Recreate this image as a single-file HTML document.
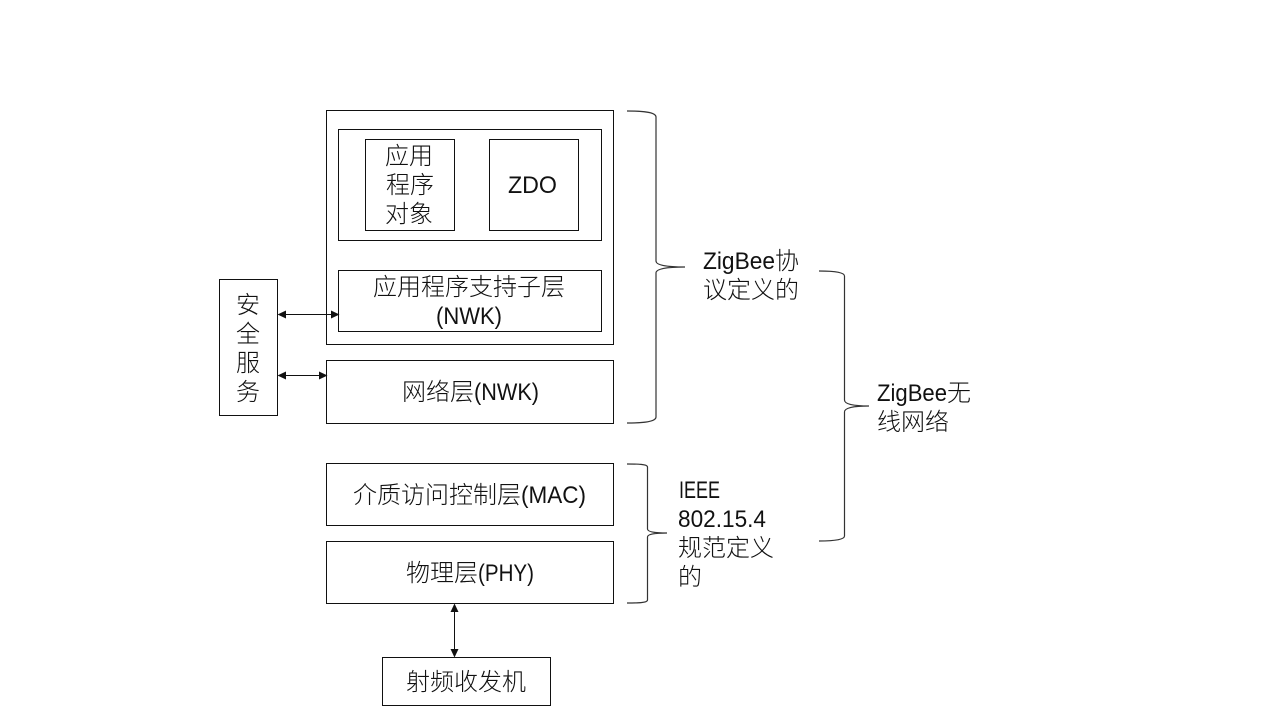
<!DOCTYPE html>
<html>
<head>
<meta charset="utf-8">
<style>
html,body{margin:0;padding:0;background:#fff;width:1280px;height:720px;overflow:hidden}
svg{display:block}
text{font-family:"Liberation Sans","Noto Sans CJK SC","WenQuanYi Zen Hei",sans-serif;font-size:24px;fill:#111;font-weight:300}
.m{text-anchor:middle}
rect{fill:none;stroke:#111;stroke-width:1}
.b{fill:none;stroke:#333;stroke-width:1.200}
.a{stroke:#111;stroke-width:1;fill:none}
.h{fill:#111;stroke:none}
</style>
</head>
<body>
<svg width="1280" height="720" viewBox="0 0 1280 720" xmlns="http://www.w3.org/2000/svg">
<rect x="326.5" y="110.5" width="287" height="234"/>
<rect x="338.5" y="129.5" width="263" height="111"/>
<rect x="365.5" y="139.5" width="89" height="91"/>
<rect x="489.5" y="139.5" width="89" height="91"/>
<rect x="338.5" y="270.5" width="263" height="61"/>
<rect x="219.5" y="279.5" width="58" height="136"/>
<rect x="326.5" y="360.5" width="287" height="63"/>
<rect x="326.5" y="463.5" width="287" height="62"/>
<rect x="326.5" y="541.5" width="287" height="62"/>
<rect x="382.5" y="657.5" width="168" height="48"/>

<text class="m" x="409" y="164">应用</text>
<text class="m" x="410" y="193">程序</text>
<text class="m" x="409" y="222">对象</text>
<text x="508" y="193" textLength="49" lengthAdjust="spacingAndGlyphs">ZDO</text>
<text class="m" x="469" y="295">应用程序支持子层</text>
<text x="436" y="324" textLength="66" lengthAdjust="spacingAndGlyphs">(NWK)</text>
<text class="m" x="248" y="313">安</text>
<text class="m" x="248" y="342">全</text>
<text class="m" x="248" y="371">服</text>
<text class="m" x="248" y="400">务</text>
<text x="402" y="400">网络层</text>
<text x="474" y="400" textLength="65" lengthAdjust="spacingAndGlyphs">(NWK)</text>
<text x="353" y="503">介质访问控制层</text>
<text x="521" y="503" textLength="65" lengthAdjust="spacingAndGlyphs">(MAC)</text>
<text x="406" y="581">物理层</text>
<text x="478" y="581" textLength="56" lengthAdjust="spacingAndGlyphs">(PHY)</text>
<text class="m" x="466" y="690">射频收发机</text>
<text x="703" y="269" textLength="72" lengthAdjust="spacingAndGlyphs">ZigBee</text>
<text x="775" y="269">协</text>
<text x="703" y="298">议定义的</text>
<text x="877" y="401" textLength="70" lengthAdjust="spacingAndGlyphs">ZigBee</text>
<text x="947" y="401">无</text>
<text x="877" y="430">线网络</text>
<text x="679" y="498" textLength="41" lengthAdjust="spacingAndGlyphs">IEEE</text>
<text x="678" y="527" textLength="88" lengthAdjust="spacingAndGlyphs">802.15.4</text>
<text x="678" y="556">规范定义</text>
<text x="678" y="585">的</text>

<path class="b" d="M627 111 C642 111 656 112 656 117 L656 261 C656 265 665 267 685 267 C665 267 656 269 656 273 L656 417 C656 422 642 423 627 423"/>
<path class="b" d="M819 271 C833 271 844.500 272 844.500 276 L844.500 400 C844.500 404 853 406 869 406 C853 406 844.500 408 844.500 412 L844.500 536 C844.500 540 833 541 819 541"/>
<path class="b" d="M627 464 C637 464 647.500 464 647.500 467 L647.500 529 C647.500 532 655 533 667 533 C655 533 647.500 534 647.500 537 L647.500 600 C647.500 603 637 603 627 603"/>

<line class="a" x1="282" y1="314.500" x2="334" y2="314.500"/>
<path class="h" d="M277.500 314.500 L286 310.500 L286 318.500 Z"/>
<path class="h" d="M339.500 314.500 L331 310.500 L331 318.500 Z"/>
<line class="a" x1="282" y1="375.500" x2="322" y2="375.500"/>
<path class="h" d="M277.500 375.500 L286 371.500 L286 379.500 Z"/>
<path class="h" d="M327.500 375.500 L319 371.500 L319 379.500 Z"/>
<line class="a" x1="454.500" y1="608" x2="454.500" y2="653"/>
<path class="h" d="M454.500 603.500 L450.500 612 L458.500 612 Z"/>
<path class="h" d="M454.500 657.500 L450.500 649 L458.500 649 Z"/>
</svg>
</body>
</html>
